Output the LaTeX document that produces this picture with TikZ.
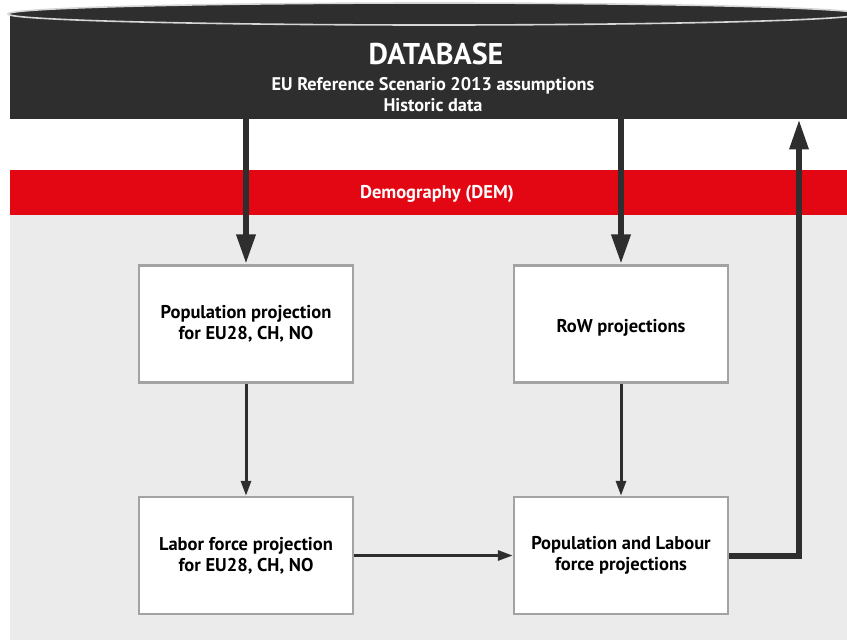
\documentclass[tikz,border=0pt]{standalone}
\usepackage{fontspec}
\setmainfont{PT Sans}
\usetikzlibrary{arrows.meta}
\definecolor{dbdark}{HTML}{2E2E2E}
\definecolor{demred}{HTML}{E30613}
\definecolor{panelgray}{HTML}{EBEBEB}
\definecolor{boxedge}{HTML}{A3A3A3}
\definecolor{rimgray}{HTML}{D6D6D6}
\begin{document}
\begin{tikzpicture}[x=1pt,y=-1pt,
  procbox/.style={draw=boxedge, line width=2.4pt, fill=white,
    minimum width=214pt, minimum height=117pt, inner sep=0pt, align=center,
    font=\bfseries\fontsize{18.5}{21}\selectfont},
  bigflow/.style={draw=dbdark, line width=6.5pt,
    -{Triangle[width=18pt,length=30pt]}},
  smallflow/.style={draw=dbdark, line width=3pt,
    -{Triangle[width=10pt,length=15pt]}},
  dbtext/.style={text=white, anchor=base, inner sep=0pt}]
\useasboundingbox (0,0) rectangle (847,640);
\clip (0,0) rectangle (847,640);

% grey model panel and red module banner
\node[fill=panelgray, minimum width=860pt, minimum height=430pt,
  inner sep=0pt, anchor=north west] (panel) at (10,215) {};
\node[fill=demred, minimum width=860pt, minimum height=45pt,
  inner sep=0pt, anchor=north west] (dem) at (10,170) {};
\node[text=white, font=\bfseries\fontsize{18.5}{21}\selectfont, anchor=base,
  inner sep=0pt] (demlabel) at (437,198) {Demography (DEM)};

% database cylinder
\node[fill=dbdark, minimum width=848pt, minimum height=105pt,
  inner sep=0pt, anchor=north west] (db) at (10,14) {};
\draw[fill=dbdark, draw=rimgray, line width=1.6pt]
  (434,14) ellipse [x radius=426, y radius=11];
\node[dbtext, font=\bfseries\fontsize{30}{32}\selectfont] (dbtitle) at (436,64) {DATABASE};
\node[dbtext, font=\bfseries\fontsize{18.3}{21}\selectfont] (dbline1) at (433,90)
  {EU Reference Scenario 2013 assumptions};
\node[dbtext, font=\bfseries\fontsize{18.3}{21}\selectfont] (dbline2) at (433,111)
  {Historic data};

% process boxes
\node[procbox] (popproj) at (246,324) {Population projection\\for EU28, CH, NO};
\node[procbox] (rowproj) at (621,324)
  {\raisebox{-3.5pt}[\height][\depth]{RoW projections}};
\node[procbox] (labproj) at (246,555.5) {Labor force projection\\for EU28, CH, NO};
\node[procbox] (poplab)  at (621,555.5) {Population and Labour\\force projections};

% flows
\draw[bigflow] (db.south -| popproj.north) -- (popproj.north);
\draw[bigflow] (db.south -| rowproj.north) -- (rowproj.north);
\draw[smallflow] (popproj.south) -- (labproj.north);
\draw[smallflow] (rowproj.south) -- (poplab.north);
\draw[smallflow] (labproj.east) -- (poplab.west);
\coordinate (retcorner) at (799,555.5);
\draw[draw=dbdark, line width=6pt, -{Triangle[width=18pt,length=30pt]}]
  (poplab.east) -- (retcorner) -- (retcorner |- db.south);
\end{tikzpicture}
\end{document}
